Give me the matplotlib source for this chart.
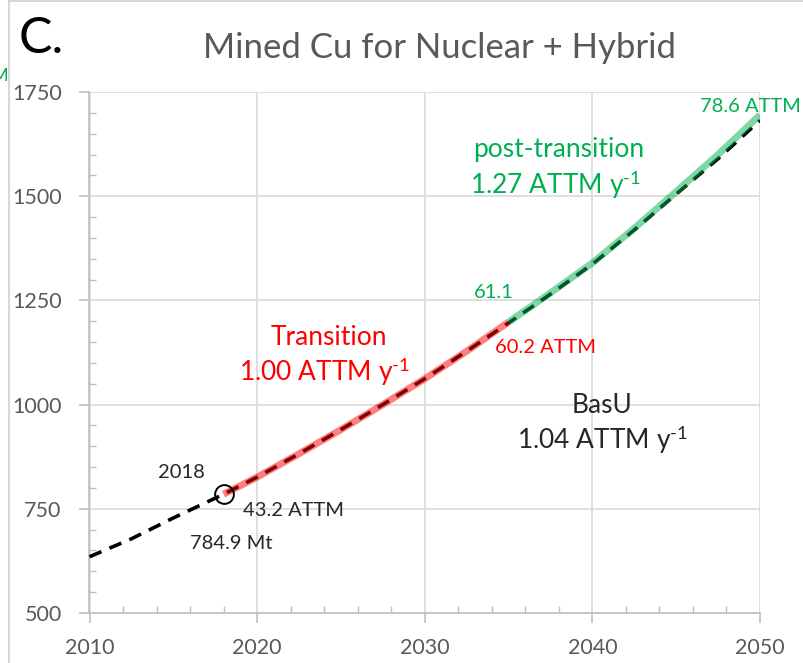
import matplotlib
matplotlib.use("Agg")
import matplotlib.pyplot as plt
from matplotlib.ticker import MultipleLocator
from matplotlib.lines import Line2D

# ---- data ----
base_years = [2010, 2012.5, 2015, 2018, 2020, 2022.5, 2025, 2027.5, 2030, 2032.5,
              2035, 2037.5, 2040, 2042.5, 2045, 2047.5, 2050]
base_vals = [635, 678, 728, 785, 826, 882, 940, 1000, 1062, 1128,
             1196, 1265, 1337, 1419, 1505, 1590, 1682]

trans_years = [2018, 2020, 2022.5, 2025, 2027.5, 2030, 2032.5, 2035]
trans_vals = [785, 826, 882, 940, 1000, 1062, 1128, 1198]

post_years = [2035, 2037.5, 2040, 2042.5, 2045, 2047.5, 2050]
post_vals = [1198, 1268, 1340, 1423, 1511, 1600, 1695]

marker_year = [2018]
marker_val = [784.9]

xticks = [2010, 2020, 2030, 2040, 2050]
yticks = [500, 750, 1000, 1250, 1500, 1750]

RED = "#FF0000"
GREEN = "#00B050"
GRAY = "#595959"
FONT = ["Lato", "DejaVu Sans"]
plt.rcParams["font.family"] = FONT
plt.rcParams["mathtext.fontset"] = "custom"
plt.rcParams["mathtext.rm"] = "Lato"
plt.rcParams["mathtext.it"] = "Lato:italic"
plt.rcParams["mathtext.bf"] = "Lato:bold"

fig = plt.figure(figsize=(8.04, 6.63), dpi=100)
ax = fig.add_axes([89.5 / 804, 1 - 613 / 663, (760 - 89.5) / 804, (613 - 92) / 663])

ax.plot(base_years, base_vals, color="black", lw=2.6, dashes=(3.6, 2.4), zorder=3)
ax.plot(trans_years, trans_vals, color=RED, lw=5, alpha=0.5, solid_capstyle="butt", zorder=4)
ax.plot(post_years, post_vals, color=GREEN, lw=5, alpha=0.5, solid_capstyle="butt", zorder=4)
ax.plot(marker_year, marker_val, "o", mfc="none", mec="black", ms=13.5, mew=1.4, zorder=5)

ax.set_xlim(2010, 2050)
ax.set_ylim(500, 1750)
ax.set_xticks(xticks)
ax.set_yticks(yticks)
ax.xaxis.set_minor_locator(MultipleLocator(2))
ax.yaxis.set_minor_locator(MultipleLocator(50))
ax.grid(True, which="major", color="#D9D9D9", lw=1.2, zorder=0)
ax.set_axisbelow(True)
for s in ["top", "right"]:
    ax.spines[s].set_visible(False)
for s in ["left", "bottom"]:
    ax.spines[s].set_color("#BFBFBF")
    ax.spines[s].set_linewidth(1.2)
ax.tick_params(which="major", direction="out", length=7, color="#BFBFBF", width=1.2,
               labelsize=15.5, labelcolor=GRAY)
ax.tick_params(which="minor", direction="in", length=5, color="#BFBFBF", width=1.0)
ax.tick_params(axis="y", which="major", pad=13)
ax.tick_params(axis="x", which="major", pad=11)

SUP = r"$^{\text{-1}}$"
SMALL = 14.5
BIG = 19

# annotations
ax.text(2015.5, 838, "2018", fontsize=SMALL, color="#262626", ha="center", va="center")
ax.text(2019.16, 745, "43.2 ATTM", fontsize=SMALL, color="#262626", ha="left", va="center")
ax.text(2016.0, 666, "784.9 Mt", fontsize=SMALL, color="#262626", ha="left", va="center")

ax.text(2024.3, 1160, "Transition", fontsize=BIG, color=RED, ha="center", va="center")
ax.text(2024.05, 1078, "1.00 ATTM y" + SUP, fontsize=BIG, color=RED, ha="center", va="center")
ax.text(2034.2, 1136, "60.2 ATTM", fontsize=SMALL, color=RED, ha="left", va="center")

ax.text(2032.94, 1270, "61.1", fontsize=SMALL, color=GREEN, ha="left", va="center")
ax.text(2038.0, 1613, "post-transition", fontsize=BIG, color=GREEN, ha="center", va="center")
ax.text(2037.8, 1527, "1.27 ATTM y" + SUP, fontsize=BIG, color=GREEN, ha="center", va="center")
ax.text(2046.4, 1716, "78.6 ATTM", fontsize=SMALL, color=GREEN, ha="left", va="center", clip_on=False)

ax.text(2040.6, 997, "BasU", fontsize=BIG, color="#262626", ha="center", va="center")
ax.text(2040.6, 915, "1.04 ATTM y" + SUP, fontsize=BIG, color="#262626", ha="center", va="center")

# title and panel letter
fig.text(440 / 804, 1 - 48 / 663, "Mined Cu for Nuclear + Hybrid", fontsize=25, color=GRAY,
         ha="center", va="center")
fig.text(19 / 804, 1 - 39 / 663, "C.", fontsize=36, color="black", ha="left", va="center")
fig.text(0 / 804, 1 - 76 / 663, "M", fontsize=13, color=GREEN, ha="center", va="center")

# frame borders
fig.add_artist(Line2D([9.5 / 804, 9.5 / 804], [0, 1], color="#D0D0D0", lw=1.2))
fig.add_artist(Line2D([9.5 / 804, 1], [1 - 1 / 663, 1 - 1 / 663], color="#D0D0D0", lw=1.2))

fig.savefig("out.png", dpi=100)
